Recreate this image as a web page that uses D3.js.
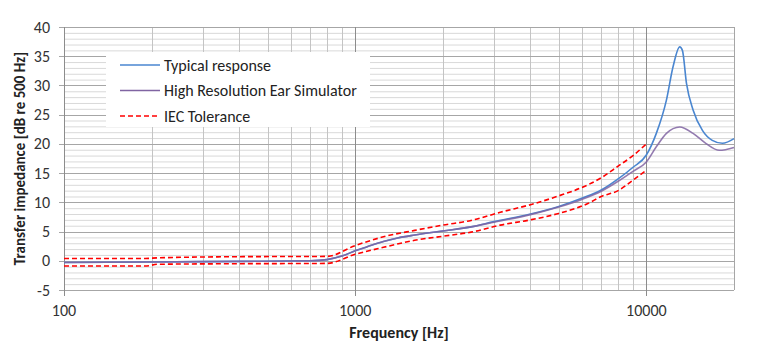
<!DOCTYPE html>
<html>
<head>
<meta charset="utf-8">
<script src="https://cdn.jsdelivr.net/npm/d3@7"></script>
<style>
  body { margin: 0; background: #fff; }
  svg { font-family: Carlito, Lato, 'Open Sans', sans-serif; }
</style>
</head>
<body>
<div id="chart"></div>
<script>
// frequencies (Hz) and levels (dB re 500 Hz)

let typFreq = [100, 200, 400, 700, 800, 900, 1000, 1100, 1250, 1400, 1600, 2000, 2500, 3000, 4000, 5000, 6000, 7000, 8000, 9000, 10000, 10820, 11720, 12350, 13020, 13300, 13740, 14470, 15580, 16840, 18250, 20000]
let typLevel = [-0.3, -0.2, -0.1, 0.0, 0.2, 0.8, 1.7, 2.4, 3.3, 3.9, 4.4, 5.1, 5.8, 6.7, 8.0, 9.3, 10.7, 12.1, 14.0, 16.0, 18.1, 21.8, 27.5, 33.2, 36.6, 36.0, 30.3, 25.8, 22.3, 20.6, 20.1, 20.9]

let hresFreq = [100, 200, 400, 700, 800, 900, 1000, 1100, 1250, 1400, 1600, 2000, 2500, 3000, 4000, 5000, 6000, 7000, 8000, 9000, 10000, 10820, 11720, 13020, 14470, 16000, 17800, 20000]
let hresLevel = [-0.3, -0.2, -0.1, 0.0, 0.2, 0.8, 1.7, 2.4, 3.3, 3.9, 4.4, 5.1, 5.8, 6.6, 7.9, 9.2, 10.5, 11.9, 13.6, 15.3, 16.9, 19.5, 21.8, 22.9, 21.8, 20.1, 18.9, 19.4]

let tolFreq = [100, 190, 210, 400, 800, 1000, 1250, 1600, 2000, 2500, 3150, 4000, 5000, 6300, 7000, 8000, 9000, 10000]
let tolUpper = [0.4, 0.4, 0.5, 0.7, 0.75, 2.6, 4.1, 5.2, 6.1, 6.9, 8.3, 9.6, 11.1, 13.0, 14.2, 16.2, 18.0, 20.0]
let tolLower = [-0.9, -0.9, -0.6, -0.5, -0.45, 1.1, 2.3, 3.5, 4.2, 4.9, 6.1, 7.0, 8.1, 9.8, 11.0, 12.0, 13.8, 15.5]

let xTicks = [100, 1000, 10000]
let yTicks = [-5, 0, 5, 10, 15, 20, 25, 30, 35, 40]

let legendNames = ['Typical response', 'High Resolution Ear Simulator', 'IEC Tolerance']

////////////////////////////////////////////////////////////////////////
// svg and scales

let width = 765
let height = 362
let margin = { left: 64, right: 31, top: 27, bottom: 72 }

let svg = d3
  .select('#chart')
  .append('svg')
  .attr('width', width)
  .attr('height', height)

let xScale = d3
  .scaleLog()
  .domain([100, 20000])
  .range([margin.left, width - margin.right])

let yScale = d3
  .scaleLinear()
  .domain([-5, 40])
  .range([height - margin.bottom, margin.top])

////////////////////////////////////////////////////////////////////////
// grid

let minorX = []
for (let dec = 100; dec < 20000; dec *= 10) {
  for (let k = 2; k <= 9; k++) {
    if (dec * k <= 20000) minorX.push(dec * k)
  }
}
let minorY = d3.range(-5, 41, 1).filter(v => v % 5 !== 0)

let grid = svg.append('g')

grid
  .selectAll('.hminor')
  .data(minorY)
  .enter()
  .append('line')
  .attr('x1', margin.left)
  .attr('x2', width - margin.right)
  .attr('y1', d => yScale(d) + 0.5)
  .attr('y2', d => yScale(d) + 0.5)
  .attr('stroke', '#d9d9d9')

grid
  .selectAll('.vminor')
  .data(minorX)
  .enter()
  .append('line')
  .attr('x1', d => Math.round(xScale(d)) + 0.5)
  .attr('x2', d => Math.round(xScale(d)) + 0.5)
  .attr('y1', yScale(40))
  .attr('y2', yScale(-5))
  .attr('stroke', '#c4c4c4')

grid
  .selectAll('.hmajor')
  .data(yTicks)
  .enter()
  .append('line')
  .attr('x1', margin.left - 5)
  .attr('x2', width - margin.right)
  .attr('y1', d => Math.round(yScale(d)) + 0.5)
  .attr('y2', d => Math.round(yScale(d)) + 0.5)
  .attr('stroke', '#a6a6a6')

grid
  .selectAll('.vmajor')
  .data(xTicks)
  .enter()
  .append('line')
  .attr('x1', d => Math.round(xScale(d)) + 0.5)
  .attr('x2', d => Math.round(xScale(d)) + 0.5)
  .attr('y1', yScale(40))
  .attr('y2', yScale(-5) + 6)
  .attr('stroke', '#8c8c8c')

// right border of the plot area
grid
  .append('line')
  .attr('x1', Math.round(xScale(20000)) + 0.5)
  .attr('x2', Math.round(xScale(20000)) + 0.5)
  .attr('y1', yScale(40))
  .attr('y2', yScale(-5))
  .attr('stroke', '#a6a6a6')

////////////////////////////////////////////////////////////////////////
// tick labels and titles

svg
  .selectAll('.ylabel')
  .data(yTicks)
  .enter()
  .append('text')
  .attr('x', 50)
  .attr('y', d => yScale(d) + 5.5)
  .attr('text-anchor', 'end')
  .attr('font-size', 16)
  .attr('fill', '#333')
  .text(d => d)

svg
  .selectAll('.xlabel')
  .data(xTicks)
  .enter()
  .append('text')
  .attr('x', d => xScale(d))
  .attr('y', 316)
  .attr('text-anchor', 'middle')
  .attr('font-size', 16)
  .attr('fill', '#333')
  .text(d => d)

svg
  .append('text')
  .attr('x', xScale(Math.sqrt(100 * 20000)))
  .attr('y', 338)
  .attr('text-anchor', 'middle')
  .attr('font-size', 16)
  .attr('font-weight', 'bold')
  .attr('fill', '#222')
  .text('Frequency [Hz]')

svg
  .append('text')
  .attr('transform', 'translate(25,' + yScale(17.5) + ') rotate(-90)')
  .attr('text-anchor', 'middle')
  .attr('font-size', 15)
  .attr('font-weight', 'bold')
  .attr('fill', '#222')
  .text('Transfer impedance [dB re 500 Hz]')

////////////////////////////////////////////////////////////////////////
// lines

let line = d3
  .line()
  .x(d => xScale(d[0]))
  .y(d => yScale(d[1]))
  .curve(d3.curveMonotoneX)

function pairs (fs, vs) {
  return fs.map((f, i) => [f, vs[i]])
}

svg
  .append('path')
  .attr('d', line(pairs(tolFreq, tolUpper)))
  .attr('fill', 'none')
  .attr('stroke', '#ff0000')
  .attr('stroke-width', 1.6)
  .attr('stroke-dasharray', '5,3')

svg
  .append('path')
  .attr('d', line(pairs(tolFreq, tolLower)))
  .attr('fill', 'none')
  .attr('stroke', '#ff0000')
  .attr('stroke-width', 1.6)
  .attr('stroke-dasharray', '5,3')

svg
  .append('path')
  .attr('d', line(pairs(typFreq, typLevel)))
  .attr('fill', 'none')
  .attr('stroke', '#4a86d0')
  .attr('stroke-width', 1.6)

svg
  .append('path')
  .attr('d', line(pairs(hresFreq, hresLevel)))
  .attr('fill', 'none')
  .attr('stroke', '#8064a2')
  .attr('stroke-width', 1.6)
  .attr('opacity', 0.85)

////////////////////////////////////////////////////////////////////////
// legend

let legend = svg.append('g')

legend
  .append('rect')
  .attr('x', 106)
  .attr('y', 52)
  .attr('width', 264)
  .attr('height', 75)
  .attr('fill', '#fff')

let legendColors = ['#4a86d0', '#8064a2', '#ff0000']

legend
  .selectAll('.item')
  .data(legendNames)
  .enter()
  .append('g')
  .attr('transform', (d, i) => 'translate(0,' + (65 + i * 25.5) + ')')
  .each(function (d, i) {
    let g = d3.select(this)
    g.append('line')
      .attr('x1', 120)
      .attr('x2', 160)
      .attr('stroke', legendColors[i])
      .attr('stroke-width', 1.6)
      .attr('stroke-dasharray', i === 2 ? '5,3' : null)
    g.append('text')
      .attr('x', 164)
      .attr('y', 5.5)
      .attr('font-size', 16)
      .attr('fill', '#222')
      .text(d)
  })
</script>
</body>
</html>
